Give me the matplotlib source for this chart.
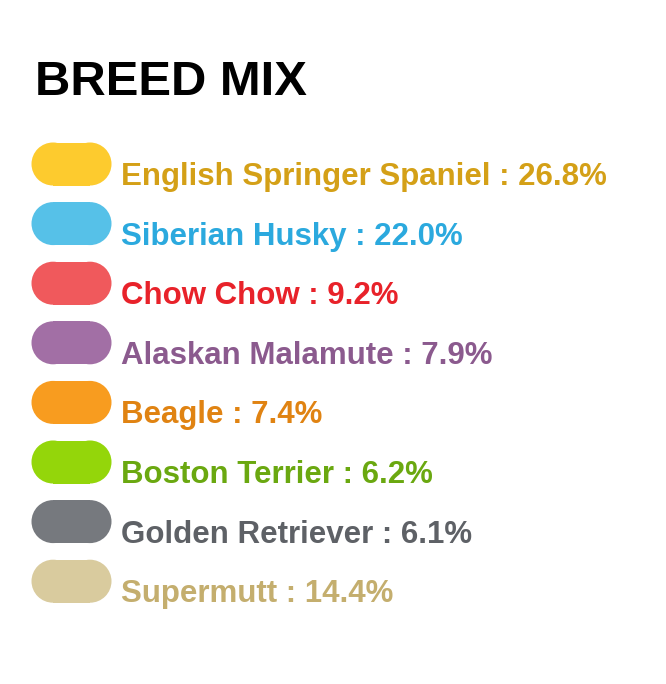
import matplotlib
matplotlib.use("Agg")
import matplotlib.pyplot as plt
from matplotlib.patches import Rectangle, Circle

title = "BREED MIX"
breeds = ["English Springer Spaniel", "Siberian Husky", "Chow Chow", "Alaskan Malamute",
          "Beagle", "Boston Terrier", "Golden Retriever", "Supermutt"]
percents = [26.8, 22.0, 9.2, 7.9, 7.4, 6.2, 6.1, 14.4]
pill_colors = ["#FDCB2E", "#56C1E8", "#F0595C", "#A26FA5",
               "#F89C1F", "#94D60A", "#76797E", "#D9CB9E"]
text_colors = ["#D4A017", "#2BA9DE", "#E8222A", "#8B5A8E",
               "#E08312", "#6AA810", "#5E6166", "#C4AE6E"]

W, H = 666, 684
fig = plt.figure(figsize=(W / 100, H / 100), dpi=100)
ax = fig.add_axes([0, 0, 1, 1])
ax.set_xlim(0, W)
ax.set_ylim(H, 0)
ax.axis("off")

FONT = ["Liberation Sans", "DejaVu Sans"]
ax.text(35, 95, title, fontsize=35.3, fontweight="bold", family=FONT,
        color="#000000", va="baseline", ha="left")

top0 = 142.5
step = 59.6
pw, ph = 80, 43
r = ph / 2
for i, (b, p, pc, tc) in enumerate(zip(breeds, percents, pill_colors, text_colors)):
    y = top0 + i * step
    ax.add_patch(Rectangle((31.5 + r, y), pw - 2 * r, ph, facecolor=pc, edgecolor="none"))
    ax.add_patch(Circle((31.5 + r, y + r), r, facecolor=pc, edgecolor="none"))
    ax.add_patch(Circle((31.5 + pw - r, y + r), r, facecolor=pc, edgecolor="none"))
    ax.text(121, y + 42.5, f"{b} : {p:.1f}%", fontsize=22.5, fontweight="bold",
            family=FONT, color=tc, va="baseline", ha="left")

fig.savefig("out.png", dpi=100)
